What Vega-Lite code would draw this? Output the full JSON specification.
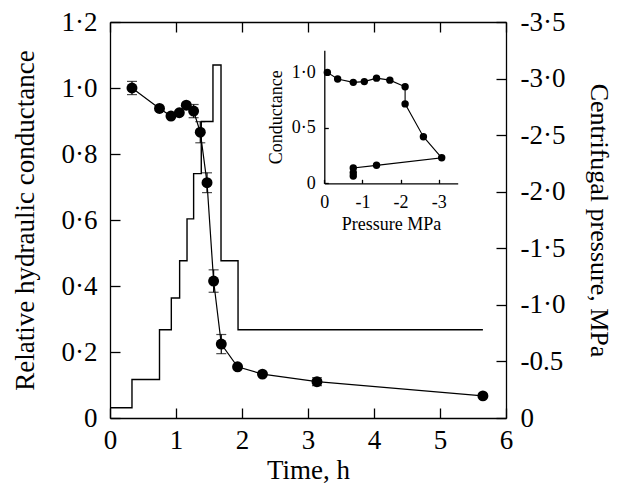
{
  "$schema": "https://vega.github.io/schema/vega-lite/v6.json",
  "width": 396,
  "height": 396,
  "autosize": {"type": "none"},
  "padding": {"left": 110, "top": 22, "right": 122, "bottom": 76},
  "background": "white",
  "config": {
    "view": {"stroke": null},
    "font": "Liberation Serif, Times New Roman, Times, serif",
    "axis": {
      "grid": false,
      "labelFlush": false,
      "labelOverlap": false,
      "domainColor": "black",
      "tickColor": "black",
      "labelColor": "black",
      "titleColor": "black",
      "labelFont": "Liberation Serif, Times New Roman, Times, serif",
      "titleFont": "Liberation Serif, Times New Roman, Times, serif",
      "titleFontWeight": "normal",
      "domainWidth": 1.3,
      "tickWidth": 1.3
    }
  },
  "datasets": {
    "cond": [
      {"t": 0.333, "v": 1.0, "e": 0.02},
      {"t": 0.75, "v": 0.938, "e": 0},
      {"t": 0.924, "v": 0.915, "e": 0},
      {"t": 1.05, "v": 0.925, "e": 0},
      {"t": 1.156, "v": 0.948, "e": 0},
      {"t": 1.267, "v": 0.93, "e": 0.02},
      {"t": 1.368, "v": 0.866, "e": 0.032},
      {"t": 1.47, "v": 0.713, "e": 0.03},
      {"t": 1.57, "v": 0.415, "e": 0.034},
      {"t": 1.686, "v": 0.224, "e": 0.029},
      {"t": 1.933, "v": 0.155, "e": 0},
      {"t": 2.31, "v": 0.133, "e": 0},
      {"t": 3.136, "v": 0.11, "e": 0.012},
      {"t": 5.65, "v": 0.067, "e": 0}
    ],
    "press": [
      {"t": 0, "p": -0.09},
      {"t": 0.333, "p": -0.34},
      {"t": 0.75, "p": -0.78},
      {"t": 0.929, "p": -1.06},
      {"t": 1.055, "p": -1.39},
      {"t": 1.167, "p": -1.76},
      {"t": 1.267, "p": -2.16},
      {"t": 1.383, "p": -2.62},
      {"t": 1.56, "p": -3.12},
      {"t": 1.682, "p": -1.39},
      {"t": 1.94, "p": -0.78},
      {"t": 5.65, "p": -0.78}
    ],
    "inset": [
      {"k": 1, "p": -0.08, "c": 1.0},
      {"k": 2, "p": -0.35, "c": 0.94},
      {"k": 3, "p": -0.76, "c": 0.91},
      {"k": 4, "p": -1.05, "c": 0.917},
      {"k": 5, "p": -1.37, "c": 0.948},
      {"k": 6, "p": -1.72, "c": 0.93},
      {"k": 7, "p": -2.12, "c": 0.87},
      {"k": 8, "p": -2.12, "c": 0.716},
      {"k": 9, "p": -2.6, "c": 0.42},
      {"k": 10, "p": -3.08, "c": 0.23},
      {"k": 11, "p": -1.37, "c": 0.162},
      {"k": 12, "p": -0.76, "c": 0.138},
      {"k": 13, "p": -0.76, "c": 0.096},
      {"k": 14, "p": -0.76, "c": 0.066}
    ]
  },
  "layer": [
    {
      "data": {"name": "cond"},
      "encoding": {
        "x": {
          "field": "t", "type": "quantitative",
          "scale": {"domain": [0, 6], "nice": false, "zero": false},
          "axis": {
            "orient": "bottom", "values": [0, 1, 2, 3, 4, 5, 6], "format": "d",
            "tickSize": -10, "labelFontSize": 27, "labelPadding": 19,
            "title": "Time, h", "titleFontSize": 27, "titlePadding": 4
          }
        },
        "y": {
          "field": "v", "type": "quantitative",
          "scale": {"domain": [0, 1.2], "nice": false},
          "axis": {
            "orient": "left", "values": [0, 0.2, 0.4, 0.6, 0.8, 1.0, 1.2],
            "labelExpr": "datum.value == 0 ? '0' : replace(format(datum.value, '.1f'), '.', '·')",
            "tickSize": -10, "labelFontSize": 27, "labelPadding": 23,
            "title": "Relative hydraulic conductance", "titleFontSize": 27, "titlePadding": 22
          }
        }
      },
      "layer": [
        {"mark": {"type": "line", "color": "black", "strokeWidth": 1.2}},
        {
          "transform": [{"filter": "datum.e > 0"}],
          "mark": {"type": "errorbar", "color": "black", "thickness": 1.2, "ticks": {"size": 10, "thickness": 1.2, "color": "black"}},
          "encoding": {"yError": {"field": "e"}}
        },
        {"mark": {"type": "point", "filled": true, "color": "black", "opacity": 1, "size": 120}}
      ]
    },
    {
      "data": {"name": "press"},
      "mark": {"type": "line", "interpolate": "step-after", "color": "black", "strokeWidth": 1.4},
      "encoding": {
        "x": {
          "field": "t", "type": "quantitative",
          "scale": {"domain": [0, 6], "nice": false, "zero": false},
          "axis": {"orient": "top", "values": [0, 1, 2, 3, 4, 5, 6], "labels": false, "tickSize": -10, "title": null}
        },
        "y": {
          "field": "p", "type": "quantitative",
          "scale": {"domain": [0, -3.5], "nice": false, "zero": false},
          "axis": {
            "orient": "right", "values": [0, -0.5, -1, -1.5, -2, -2.5, -3, -3.5],
            "labelExpr": "datum.value == 0 ? '0' : (datum.value == -0.5 ? '-0.5' : '-' + replace(format(abs(datum.value), '.1f'), '.', '·'))",
            "tickSize": -10, "labelFontSize": 27, "labelPadding": 24,
            "title": "Centrifugal pressure, MPa", "titleFontSize": 26, "titlePadding": 21
          }
        }
      }
    },
    {
      "data": {"name": "inset"},
      "encoding": {
        "x": {
          "field": "p", "type": "quantitative",
          "scale": {"domain": [0, -3.5], "range": [214.3, 347.7], "nice": false, "zero": false},
          "axis": {
            "orient": "bottom", "offset": -234.7, "values": [0, -1, -2, -3],
            "labelExpr": "datum.value == 0 ? '0' : '-' + format(abs(datum.value), 'd')",
            "tickSize": -4, "labelFontSize": 18, "labelPadding": 14,
            "title": "Pressure MPa", "titleFontSize": 18, "titlePadding": 4
          }
        },
        "y": {
          "field": "c", "type": "quantitative",
          "scale": {"domain": [0, 1.2], "range": [161.3, 28.2], "nice": false},
          "axis": {
            "orient": "left", "offset": -214.3, "values": [0, 0.5, 1.0],
            "labelExpr": "datum.value == 0 ? '0' : replace(format(datum.value, '.1f'), '.', '·')",
            "tickSize": -4, "labelFontSize": 18, "labelPadding": 13,
            "title": "Conductance", "titleFontSize": 18, "titlePadding": 6
          }
        },
        "order": {"field": "k", "type": "quantitative"}
      },
      "layer": [
        {"mark": {"type": "line", "color": "black", "strokeWidth": 1.1}},
        {"mark": {"type": "point", "filled": true, "color": "black", "opacity": 1, "size": 55}}
      ]
    }
  ],
  "resolve": {"scale": {"x": "independent", "y": "independent"}}
}
